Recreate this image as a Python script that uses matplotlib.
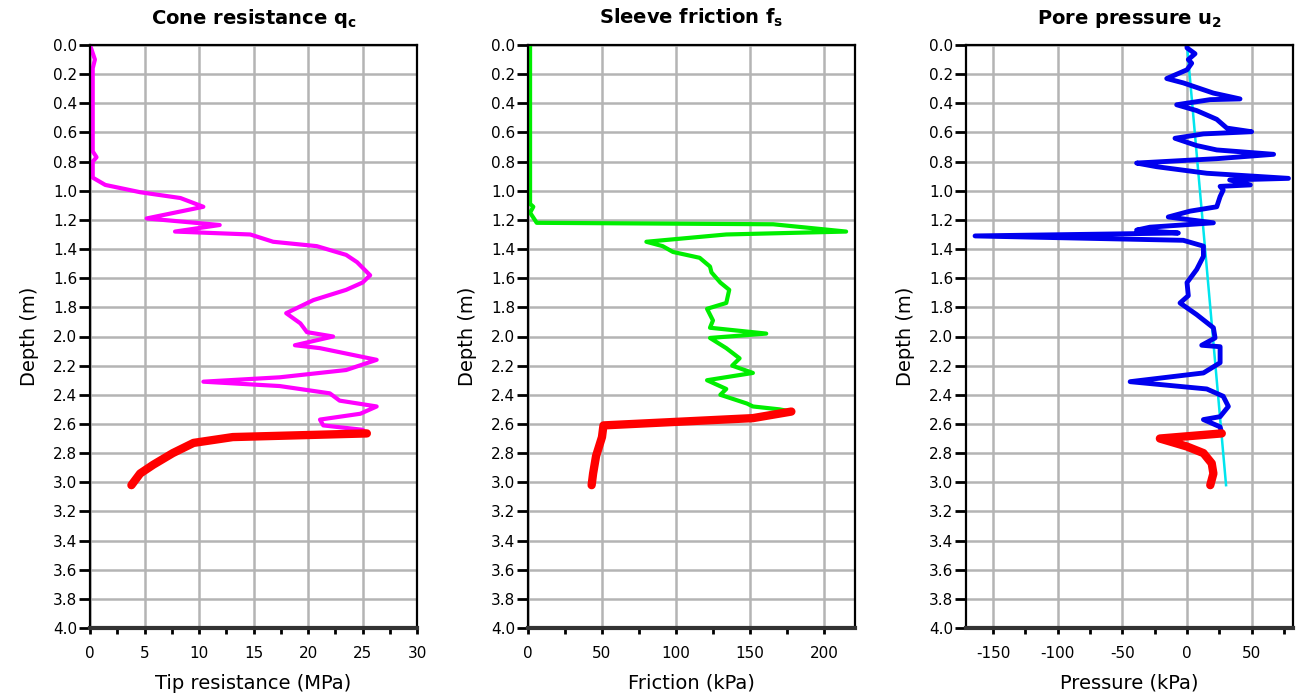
import matplotlib
matplotlib.use("Agg")
import matplotlib.pyplot as plt
import numpy as np

plt.rcParams["axes.unicode_minus"] = False

# cone resistance (MPa) vs depth (m)
qc_depth = [0.0, 0.10, 0.16, 0.73, 0.77, 0.80, 0.91, 0.96, 1.01, 1.05, 1.11, 1.19, 1.235, 1.28,
            1.30, 1.35, 1.38, 1.44, 1.49, 1.58, 1.63, 1.68, 1.75, 1.84, 1.91, 1.97, 2.00, 2.06,
            2.08, 2.16, 2.23, 2.28, 2.31, 2.34, 2.39, 2.44, 2.48, 2.53, 2.57, 2.61, 2.64, 2.665]
qc = [0.0, 0.45, 0.25, 0.25, 0.6, 0.25, 0.25, 1.4, 4.6, 8.3, 10.4, 5.2, 11.9, 7.8,
      14.7, 16.8, 20.8, 23.5, 24.5, 25.7, 25.0, 23.5, 20.5, 18.0, 19.3, 19.9, 22.3, 18.8,
      21.1, 26.3, 23.5, 17.4, 10.4, 17.4, 22.0, 22.9, 26.3, 24.8, 21.1, 21.4, 25.0, 25.4]
qc_red_depth = [2.665, 2.69, 2.73, 2.80, 2.88, 2.94, 3.02]
qc_red = [25.4, 13.1, 9.5, 7.6, 5.8, 4.6, 3.8]

# sleeve friction (kPa)
fs_depth = [0.0, 1.09, 1.11, 1.15, 1.22, 1.23, 1.28, 1.30, 1.35, 1.38, 1.42, 1.46, 1.52, 1.56,
            1.63, 1.68, 1.77, 1.81, 1.89, 1.94, 1.98, 2.01, 2.08, 2.15, 2.20, 2.25, 2.30, 2.36,
            2.40, 2.46, 2.48, 2.50, 2.515]
fs = [1.4, 1.4, 3.6, 1.4, 5.9, 165.7, 215, 134, 80, 91, 98, 116, 123, 124,
      130, 136, 134, 121, 125, 123, 161, 123, 134, 143, 138, 152, 121, 134,
      130, 148, 152, 170, 178]
fs_red_depth = [2.515, 2.56, 2.61, 2.69, 2.82, 2.94, 3.02]
fs_red = [178, 152, 51, 50, 46, 44, 43]

# pore pressure (kPa)
u2_depth = [0.0, 0.02, 0.06, 0.10, 0.125, 0.17, 0.23, 0.26, 0.33, 0.37, 0.375, 0.41, 0.45, 0.51,
            0.57, 0.595, 0.61, 0.64, 0.69, 0.72, 0.75, 0.78, 0.81, 0.835, 0.88, 0.915, 0.926,
            0.96, 0.97, 0.995, 1.04, 1.11, 1.14, 1.18, 1.22, 1.25, 1.27, 1.29, 1.31, 1.34, 1.38,
            1.45, 1.54, 1.63, 1.72, 1.77, 1.85, 1.94, 2.01, 2.06, 2.07, 2.18, 2.25, 2.31, 2.36,
            2.41, 2.48, 2.55, 2.57, 2.62, 2.665]
u2 = [0, 0, 6.2, 1, 3.6, 0, -15.7, -2.9, 20.4, 41, 17.8, -8, 7.5, 23,
      30.8, 50, 12.7, -9.3, 7.5, 23, 67, 23, -39, -23.5, 15.3, 78.5, 33,
      49, 25.6, 28, 25.6, 23, 2.3, -14.5, 20.4, -28.7, -39, -6.7, -164, -2.9, 12.7,
      12.7, 7.5, 0, 1, -5.4, 7.5, 20.4, 21.7, 11.4, 25.6, 25.6, 12.7, -44, 15.3,
      28, 32, 25.6, 12.7, 25.6, 26.9]
u2_red_depth = [2.665, 2.70, 2.755, 2.80, 2.87, 2.94, 3.02]
u2_red = [26.9, -21, 0, 12.7, 19.1, 20.4, 18]
u0_depth = [0.0, 3.02]
u0 = [0.0, 30.2]

grid_col = "#b4b4b4"

fig = plt.figure(figsize=(12.96, 6.95), dpi=100)
lefts = [90, 528, 966]
axes = [fig.add_axes([l / 1296, 1 - 628 / 695, 327 / 1296, 583 / 695]) for l in lefts]


def style(ax, xlim, major, minor, title, xlabel):
    ax.set_xlim(*xlim)
    ax.set_ylim(4.0, 0.0)
    ax.set_xticks(np.arange(major[0], major[1] + 0.1, major[2]))
    ax.set_xticks(np.arange(minor[0], minor[1] + 0.1, minor[2]), minor=True)
    ax.set_yticks(np.arange(0, 4.01, 0.2))
    ax.set_yticklabels(["%.1f" % v for v in np.arange(0, 4.01, 0.2)])
    ax.grid(True, color=grid_col, linewidth=1.8, zorder=0)
    ax.set_axisbelow(True)
    for s in ax.spines.values():
        s.set_linewidth(1.6)
    ax.spines["bottom"].set_linewidth(3)
    ax.spines["bottom"].set_color("#333333")
    ax.tick_params(axis="y", which="major", direction="out", length=8, width=2,
                   labelsize=11, pad=1)
    ax.tick_params(axis="x", which="both", direction="out", length=4, width=2,
                   labelsize=11, pad=9)
    ax.set_title(title, fontsize=14, fontweight="bold", pad=15)
    ax.set_xlabel(xlabel, fontsize=14, labelpad=9)
    ax.set_ylabel("Depth (m)", fontsize=14, labelpad=10)


ax1, ax2, ax3 = axes
ax1.plot(qc, qc_depth, color="#ff00ff", lw=3, solid_capstyle="round", solid_joinstyle="round")
ax1.plot(qc_red, qc_red_depth, color="#ff0000", lw=6, solid_capstyle="round", solid_joinstyle="round")
style(ax1, (0, 30), (0, 30, 5), (0, 30, 2.5), r"Cone resistance $\mathbf{q_c}$", "Tip resistance (MPa)")

ax2.plot(fs, fs_depth, color="#00ee00", lw=3, solid_capstyle="round", solid_joinstyle="round")
ax2.plot(fs_red, fs_red_depth, color="#ff0000", lw=6, solid_capstyle="round", solid_joinstyle="round")
style(ax2, (0, 221), (0, 200, 50), (0, 220, 25), r"Sleeve friction $\mathbf{f_s}$", "Friction (kPa)")

ax3.plot(u0, u0_depth, color="#00e5ee", lw=1.8)
ax3.plot(u2, u2_depth, color="#0000ee", lw=3.5, solid_capstyle="round", solid_joinstyle="round")
ax3.plot(u2_red, u2_red_depth, color="#ff0000", lw=6, solid_capstyle="round", solid_joinstyle="round")
style(ax3, (-171, 82), (-150, 50, 50), (-150, 75, 25), r"Pore pressure $\mathbf{u_2}$", "Pressure (kPa)")

fig.savefig("out.png", dpi=100)
